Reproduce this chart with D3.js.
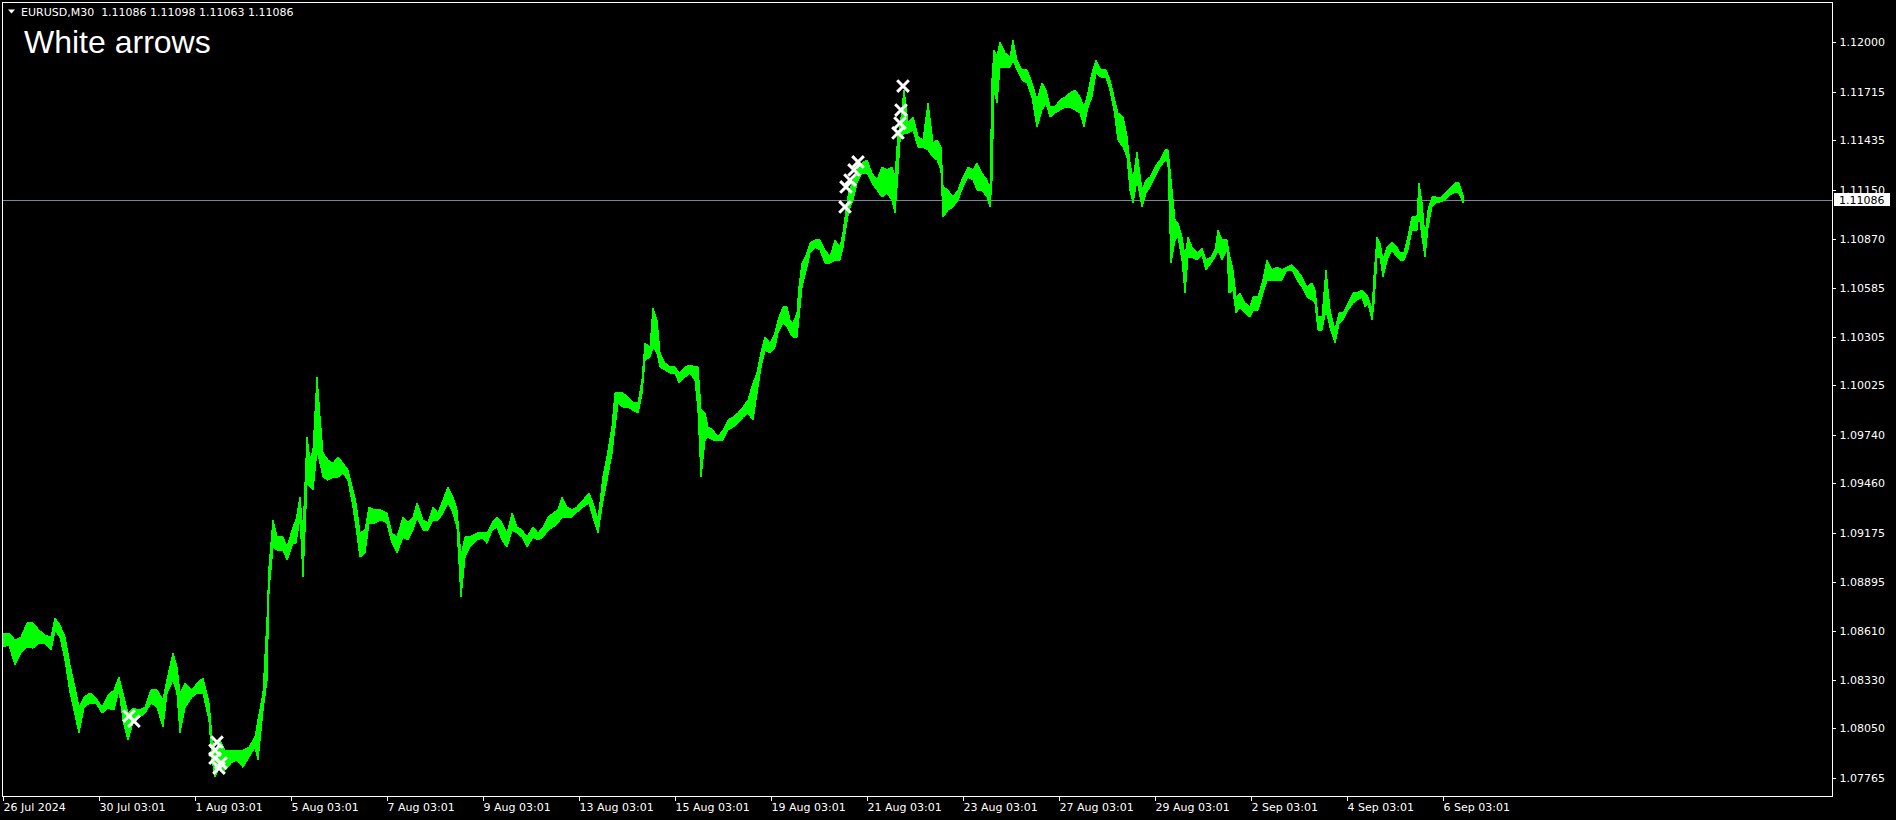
<!DOCTYPE html>
<html>
<head>
<meta charset="utf-8">
<script src="https://cdn.jsdelivr.net/npm/d3@7"></script>
<style>
  body { margin: 0; background: #000; overflow: hidden; }
  svg text { font-family: "DejaVu Sans", sans-serif; }
</style>
</head>
<body>
<div id="c1"></div>
<script>
// Variables
var w = 1896;
var h = 820;
var plotLeft = 2, plotRight = 1832, plotTop = 2, plotBottom = 796;

var symbolName = "EURUSD,M30";
var quote = ["1.11086", "1.11098", "1.11063", "1.11086"];
var lastPrice = 1.11086;
var caption = "White arrows";

// price axis labels
var priceTicks = [1.12000, 1.11715, 1.11435, 1.11150, 1.10870, 1.10585, 1.10305, 1.10025,
    1.09740, 1.09460, 1.09175, 1.08895, 1.08610, 1.08330, 1.08050, 1.07765];

// time axis: bar number and label
var timeTickBars = [0, 96, 192, 288, 384, 480, 576, 672, 768, 864, 960, 1056, 1152, 1248, 1344, 1440];
var timeTickLabels = ["26 Jul 2024", "30 Jul 03:01", "1 Aug 03:01", "5 Aug 03:01", "7 Aug 03:01",
    "9 Aug 03:01", "13 Aug 03:01", "15 Aug 03:01", "19 Aug 03:01", "21 Aug 03:01", "23 Aug 03:01",
    "27 Aug 03:01", "29 Aug 03:01", "2 Sep 03:01", "4 Sep 03:01", "6 Sep 03:01"];

// price line, sampled: bar number, upper and lower price of the trace at that bar
var bars = [
    0, 6, 12, 18, 24, 30, 36, 42, 48, 52,
    57, 62, 67, 71, 76, 81, 87, 93, 99, 105,
    111, 116, 120, 125, 130, 136, 142, 148, 154, 160,
    164, 170, 174, 177, 182, 189, 194, 200, 206, 209,
    212, 217, 222, 228, 234, 240, 246, 252, 255, 260,
    264, 266, 270, 274, 280, 284, 290, 293, 297, 300,
    304, 307, 310, 314, 317, 320, 325, 330, 335, 340,
    345, 350, 353, 357, 362, 366, 372, 378, 384, 389,
    394, 400, 405, 410, 414, 420, 425, 430, 435, 440,
    445, 450, 454, 458, 462, 467, 474, 479, 484, 489,
    494, 499, 504, 509, 514, 519, 524, 530, 535, 540,
    545, 550, 555, 559, 564, 569, 574, 580, 586, 590,
    595, 600, 604, 609, 612, 615, 620, 625, 630, 635,
    639, 642, 647, 650, 654, 657, 662, 667, 672, 676,
    682, 687, 692, 695, 698, 702, 705, 710, 715, 720,
    725, 730, 735, 740, 745, 750, 754, 758, 762, 767,
    772, 775, 780, 784, 787, 790, 794, 796, 799, 804,
    807, 812, 817, 822, 827, 832, 837, 840, 843, 846,
    850, 854, 859, 864, 869, 874, 879, 884, 889, 892,
    895, 897, 901, 905, 910, 915, 920, 925, 930, 934,
    938, 940, 945, 950, 955, 960, 965, 970, 974, 979,
    984, 987, 989, 991, 994, 997, 1002, 1007, 1010, 1014,
    1019, 1024, 1029, 1034, 1039, 1043, 1047, 1052, 1057, 1062,
    1067, 1072, 1077, 1081, 1085, 1089, 1093, 1098, 1103, 1107,
    1111, 1115, 1120, 1124, 1127, 1130, 1134, 1139, 1143, 1147,
    1152, 1157, 1162, 1165, 1168, 1172, 1175, 1179, 1182, 1185,
    1189, 1194, 1199, 1203, 1208, 1212, 1215, 1219, 1224, 1226,
    1230, 1233, 1237, 1242, 1247, 1250, 1255, 1260, 1264, 1269,
    1274, 1279, 1284, 1289, 1294, 1299, 1304, 1309, 1312, 1315,
    1319, 1323, 1327, 1332, 1336, 1340, 1345, 1350, 1354, 1359,
    1362, 1365, 1369, 1371, 1374, 1377, 1380, 1384, 1389, 1394,
    1397, 1401, 1405, 1409, 1414, 1416, 1419, 1422, 1425, 1429,
    1433, 1437, 1442, 1447, 1452, 1456, 1460
];
var highs = [
    1.08598, 1.08598, 1.08558, 1.08575, 1.08656, 1.08656, 1.08615, 1.08587, 1.08575, 1.08685,
    1.08644, 1.08575, 1.08414, 1.08310, 1.08172, 1.08230, 1.08253, 1.08224, 1.08172, 1.08241,
    1.08270, 1.08345, 1.08253, 1.08137, 1.08166, 1.08155, 1.08172, 1.08270, 1.08270, 1.08212,
    1.08328, 1.08483, 1.08402, 1.08253, 1.08310, 1.08270, 1.08310, 1.08339, 1.08195, 1.07999,
    1.07907, 1.07982, 1.07924, 1.07924, 1.07924, 1.07924, 1.07942, 1.07999, 1.08097, 1.08253,
    1.08673, 1.08978, 1.09249, 1.09151, 1.09151, 1.09093, 1.09209, 1.09249, 1.09381, 1.09174,
    1.09727, 1.09594, 1.09652, 1.10072, 1.09842, 1.09635, 1.09594, 1.09577, 1.09612, 1.09577,
    1.09537, 1.09422, 1.09347, 1.09174, 1.09191, 1.09324, 1.09307, 1.09307, 1.09289, 1.09174,
    1.09151, 1.09266, 1.09232, 1.09266, 1.09347, 1.09249, 1.09232, 1.09324, 1.09289, 1.09364,
    1.09439, 1.09381, 1.09307, 1.09036, 1.09151, 1.09151, 1.09174, 1.09180, 1.09174, 1.09232,
    1.09266, 1.09232, 1.09174, 1.09289, 1.09209, 1.09191, 1.09151, 1.09209, 1.09174, 1.09209,
    1.09266, 1.09289, 1.09307, 1.09381, 1.09324, 1.09307, 1.09324, 1.09364, 1.09404, 1.09347,
    1.09249, 1.09497, 1.09612, 1.09785, 1.09980, 1.09980, 1.09980, 1.09957, 1.09923, 1.09923,
    1.10055, 1.10268, 1.10245, 1.10470, 1.10401, 1.10211, 1.10153, 1.10130, 1.10130, 1.10096,
    1.10130, 1.10142, 1.10130, 1.10130, 1.09882, 1.09865, 1.09785, 1.09767, 1.09727, 1.09767,
    1.09825, 1.09842, 1.09865, 1.09900, 1.09940, 1.10038, 1.10096, 1.10211, 1.10303, 1.10268,
    1.10326, 1.10401, 1.10476, 1.10476, 1.10401, 1.10383, 1.10441, 1.10591, 1.10729, 1.10787,
    1.10844, 1.10861, 1.10861, 1.10804, 1.10764, 1.10861, 1.10821, 1.10902, 1.11034, 1.11149,
    1.11190, 1.11265, 1.11305, 1.11322, 1.11247, 1.11207, 1.11282, 1.11265, 1.11282, 1.11224,
    1.11478, 1.11512, 1.11725, 1.11535, 1.11570, 1.11455, 1.11437, 1.11650, 1.11420, 1.11437,
    1.11397, 1.11167, 1.11149, 1.11109, 1.11149, 1.11224, 1.11282, 1.11265, 1.11305, 1.11247,
    1.11207, 1.11149, 1.11783, 1.11956, 1.11915, 1.12002, 1.11938, 1.11915, 1.12013, 1.11898,
    1.11840, 1.11840, 1.11766, 1.11668, 1.11766, 1.11725, 1.11627, 1.11627, 1.11668, 1.11685,
    1.11708, 1.11725, 1.11685, 1.11627, 1.11708, 1.11823, 1.11898, 1.11840, 1.11840, 1.11783,
    1.11685, 1.11593, 1.11570, 1.11455, 1.11305, 1.11207, 1.11368, 1.11149, 1.11207, 1.11224,
    1.11282, 1.11322, 1.11380, 1.11380, 1.11207, 1.10977, 1.10959, 1.10879, 1.10764, 1.10879,
    1.10821, 1.10787, 1.10815, 1.10746, 1.10764, 1.10804, 1.10919, 1.10861, 1.10861, 1.10787,
    1.10689, 1.10533, 1.10556, 1.10499, 1.10476, 1.10533, 1.10533, 1.10631, 1.10746, 1.10689,
    1.10706, 1.10689, 1.10706, 1.10718, 1.10689, 1.10648, 1.10591, 1.10614, 1.10573, 1.10418,
    1.10418, 1.10689, 1.10458, 1.10343, 1.10441, 1.10441, 1.10499, 1.10556, 1.10556, 1.10573,
    1.10556, 1.10533, 1.10458, 1.10648, 1.10879, 1.10844, 1.10746, 1.10821, 1.10850, 1.10821,
    1.10787, 1.10787, 1.10879, 1.10994, 1.10994, 1.11190, 1.11075, 1.10879, 1.11034, 1.11109,
    1.11109, 1.11103, 1.11132, 1.11161, 1.11190, 1.11190, 1.11121
];
var lows = [
    1.08518, 1.08529, 1.08414, 1.08483, 1.08518, 1.08512, 1.08541, 1.08541, 1.08500, 1.08615,
    1.08575, 1.08443, 1.08258, 1.08155, 1.08022, 1.08172, 1.08195, 1.08195, 1.08137, 1.08166,
    1.08155, 1.08270, 1.08097, 1.07982, 1.08086, 1.08114, 1.08137, 1.08195, 1.08172, 1.08057,
    1.08253, 1.08328, 1.08253, 1.08022, 1.08172, 1.08230, 1.08253, 1.08253, 1.08097, 1.07867,
    1.07769, 1.07826, 1.07809, 1.07850, 1.07867, 1.07826, 1.07884, 1.07942, 1.07867, 1.08155,
    1.08328, 1.08846, 1.09093, 1.09076, 1.09076, 1.09019, 1.09116, 1.09116, 1.09266, 1.08921,
    1.09462, 1.09439, 1.09422, 1.09652, 1.09577, 1.09497, 1.09479, 1.09497, 1.09497, 1.09520,
    1.09479, 1.09324, 1.09209, 1.09036, 1.09059, 1.09232, 1.09232, 1.09249, 1.09232, 1.09116,
    1.09059, 1.09151, 1.09134, 1.09191, 1.09266, 1.09191, 1.09191, 1.09249, 1.09249, 1.09289,
    1.09347, 1.09289, 1.09209, 1.08806, 1.09036, 1.09093, 1.09134, 1.09145, 1.09116, 1.09191,
    1.09209, 1.09134, 1.09093, 1.09191, 1.09174, 1.09151, 1.09093, 1.09151, 1.09134, 1.09151,
    1.09191, 1.09209, 1.09232, 1.09266, 1.09266, 1.09266, 1.09295, 1.09324, 1.09347, 1.09266,
    1.09174, 1.09364, 1.09479, 1.09635, 1.09785, 1.09923, 1.09900, 1.09900, 1.09882, 1.09865,
    1.09980, 1.10170, 1.10188, 1.10245, 1.10211, 1.10130, 1.10113, 1.10096, 1.10096, 1.10038,
    1.10072, 1.10096, 1.10055, 1.09882, 1.09497, 1.09710, 1.09727, 1.09710, 1.09710, 1.09710,
    1.09767, 1.09785, 1.09808, 1.09842, 1.09865, 1.09825, 1.09980, 1.10130, 1.10228, 1.10211,
    1.10245, 1.10326, 1.10383, 1.10360, 1.10326, 1.10303, 1.10303, 1.10418, 1.10591, 1.10706,
    1.10787, 1.10821, 1.10804, 1.10729, 1.10729, 1.10746, 1.10746, 1.10821, 1.10936, 1.11034,
    1.11092, 1.11190, 1.11247, 1.11247, 1.11190, 1.11149, 1.11109, 1.11132, 1.11092, 1.11017,
    1.11247, 1.11437, 1.11478, 1.11478, 1.11495, 1.11397, 1.11397, 1.11380, 1.11339, 1.11322,
    1.11265, 1.10994, 1.11034, 1.11052, 1.11092, 1.11167, 1.11224, 1.11207, 1.11149, 1.11149,
    1.11109, 1.11052, 1.11207, 1.11725, 1.11650, 1.11858, 1.11858, 1.11858, 1.11898, 1.11840,
    1.11783, 1.11766, 1.11685, 1.11512, 1.11610, 1.11650, 1.11570, 1.11593, 1.11610, 1.11627,
    1.11627, 1.11610, 1.11593, 1.11512, 1.11627, 1.11685, 1.11823, 1.11800, 1.11800, 1.11725,
    1.11610, 1.11437, 1.11397, 1.11339, 1.11149, 1.11075, 1.11207, 1.11052, 1.11132, 1.11167,
    1.11224, 1.11282, 1.11322, 1.11305, 1.10729, 1.10861, 1.10879, 1.10746, 1.10556, 1.10764,
    1.10764, 1.10746, 1.10775, 1.10689, 1.10729, 1.10764, 1.10804, 1.10746, 1.10804, 1.10556,
    1.10573, 1.10441, 1.10476, 1.10441, 1.10418, 1.10458, 1.10458, 1.10556, 1.10631, 1.10631,
    1.10631, 1.10631, 1.10689, 1.10689, 1.10631, 1.10591, 1.10533, 1.10516, 1.10499, 1.10343,
    1.10343, 1.10458, 1.10360, 1.10268, 1.10383, 1.10401, 1.10458, 1.10499, 1.10516, 1.10533,
    1.10476, 1.10499, 1.10401, 1.10499, 1.10764, 1.10764, 1.10648, 1.10746, 1.10804, 1.10764,
    1.10746, 1.10746, 1.10804, 1.10919, 1.10919, 1.11017, 1.10879, 1.10764, 1.10936, 1.11052,
    1.11075, 1.11080, 1.11092, 1.11121, 1.11138, 1.11132, 1.11075
];

// white arrow marks (bar, price)
var arrowBars = [126, 131, 214, 212, 212, 218, 216, 842, 843, 847, 851, 855, 895, 897, 898, 900];
var arrowPrices = [1.08120, 1.08091, 1.07970, 1.07924, 1.07878, 1.07850, 1.07821,
    1.11052, 1.11167, 1.11207, 1.11265, 1.11311, 1.11478, 1.11535, 1.11610, 1.11748];

var svg;

function draw() {
    var parent = d3.select("body").select("#c1");

    svg = parent.append("svg")
        .attr("width", w)
        .attr("height", h)
        .style("display", "block")
        .style("background", "#000");

    var x = d3.scaleLinear().domain([0, 1829]).range([plotLeft + 1, plotRight]);
    var y = d3.scaleLinear().domain([1.07660, 1.12232]).range([plotBottom, plotTop]);

    var trace = bars.map(function (b, i) {
        return { bar: b, hi: highs[i], lo: lows[i] };
    });

    // current price line
    svg.append("line")
        .attr("x1", plotLeft).attr("x2", plotRight)
        .attr("y1", Math.round(y(lastPrice)) - 0.5)
        .attr("y2", Math.round(y(lastPrice)) - 0.5)
        .attr("stroke", "#778899")
        .attr("stroke-width", 1);

    // price trace
    var band = d3.area()
        .x(function (d) { return x(d.bar); })
        .y0(function (d) { return y(d.lo); })
        .y1(function (d) { return y(d.hi); });

    svg.append("path")
        .datum(trace)
        .attr("d", band)
        .attr("fill", "#00ff00")
        .attr("stroke", "#00ff00")
        .attr("stroke-width", 1.2)
        .attr("stroke-linejoin", "bevel")
        .attr("shape-rendering", "crispEdges");

    // arrows
    var cross = d3.symbol().type(d3.symbolTimes).size(90);
    svg.selectAll("path.arrow")
        .data(arrowBars)
        .enter()
        .append("path")
        .attr("class", "arrow")
        .attr("transform", function (d, i) {
            return "translate(" + x(d) + "," + y(arrowPrices[i]) + ")";
        })
        .attr("d", cross)
        .attr("fill", "none")
        .attr("stroke", "#ffffff")
        .attr("stroke-width", 3);

    // frame
    svg.append("rect")
        .attr("x", plotLeft + 0.5).attr("y", plotTop + 0.5)
        .attr("width", plotRight - plotLeft).attr("height", plotBottom - plotTop)
        .attr("fill", "none")
        .attr("stroke", "#ffffff")
        .attr("stroke-width", 1)
        .attr("shape-rendering", "crispEdges");

    // price axis
    var yAxis = svg.append("g")
        .attr("transform", "translate(" + (plotRight + 0.5) + ",0)")
        .call(d3.axisRight(y).tickValues(priceTicks).tickFormat(d3.format(".5f"))
            .tickSize(3).tickPadding(4));
    yAxis.select(".domain").remove();
    yAxis.selectAll("line").attr("stroke", "#ffffff").attr("shape-rendering", "crispEdges");
    yAxis.selectAll("text")
        .attr("fill", "#ffffff")
        .style("font-size", "11px")
        .style("font-family", "'DejaVu Sans', sans-serif");

    // time axis
    var xAxis = svg.append("g")
        .attr("transform", "translate(0," + (plotBottom + 0.5) + ")")
        .call(d3.axisBottom(x).tickValues(timeTickBars)
            .tickFormat(function (d, i) { return timeTickLabels[i]; })
            .tickSize(4).tickPadding(3));
    xAxis.select(".domain").remove();
    xAxis.selectAll("line").attr("stroke", "#ffffff").attr("shape-rendering", "crispEdges");
    xAxis.selectAll("text")
        .attr("fill", "#ffffff")
        .attr("text-anchor", "start")
        .style("font-size", "11px")
        .style("font-family", "'DejaVu Sans', sans-serif");

    // current price label
    var ly = y(lastPrice) - 1;
    svg.append("rect")
        .attr("x", plotRight + 2).attr("y", ly - 7)
        .attr("width", 56).attr("height", 13)
        .attr("fill", "#ffffff");
    svg.append("text")
        .attr("x", plotRight + 7).attr("y", ly)
        .attr("dy", "0.36em")
        .attr("fill", "#000000")
        .style("font-size", "11px")
        .text(d3.format(".5f")(lastPrice));

    // header
    svg.append("path")
        .attr("d", "M8,9.5 L15,9.5 L11.5,13.5 Z")
        .attr("fill", "#ffffff");
    svg.append("text")
        .attr("x", 21).attr("y", 16)
        .attr("fill", "#ffffff")
        .style("font-size", "11px")
        .attr("xml:space", "preserve")
        .text(symbolName + "  " + quote.join(" "));

    svg.append("text")
        .attr("x", 24).attr("y", 53)
        .attr("fill", "#ffffff")
        .style("font-family", "'Liberation Sans', Arial, sans-serif")
        .style("font-size", "32px")
        .text(caption);
}

draw();
</script>
</body>
</html>
